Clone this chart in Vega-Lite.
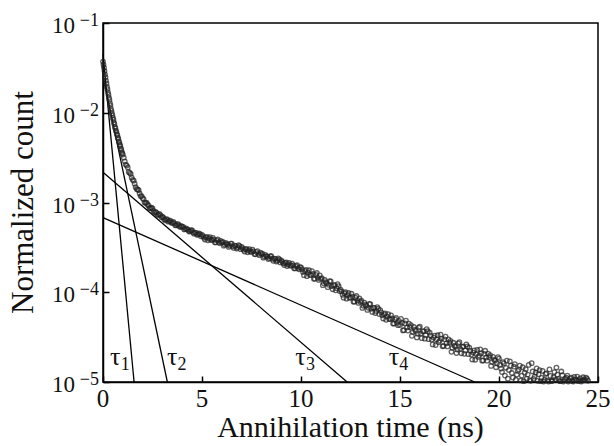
{
  "$schema": "https://vega.github.io/schema/vega-lite/v6.json",
  "autosize": "none",
  "width": 495,
  "height": 359,
  "padding": {"left": 103, "top": 23, "right": 16, "bottom": 64},
  "background": "white",
  "config": {
    "view": {"stroke": "black", "strokeWidth": 1.5},
    "axis": {
      "domainColor": "black",
      "domainWidth": 1.5,
      "tickColor": "black",
      "tickWidth": 1.5,
      "grid": false
    }
  },
  "datasets": {
    "pts": [
      {"t":0,"v":0.0372},{"t":0.025,"v":0.0343},{"t":0.05,"v":0.0318},{"t":0.075,"v":0.0292},{"t":0.1,"v":0.0267},
      {"t":0.125,"v":0.0249},{"t":0.15,"v":0.0228},{"t":0.175,"v":0.0212},{"t":0.2,"v":0.0194},{"t":0.225,"v":0.0183},
      {"t":0.25,"v":0.0169},{"t":0.275,"v":0.0159},{"t":0.3,"v":0.0147},{"t":0.325,"v":0.0139},{"t":0.35,"v":0.0128},
      {"t":0.375,"v":0.0121},{"t":0.4,"v":0.0111},{"t":0.425,"v":0.0105},{"t":0.45,"v":0.00985},{"t":0.475,"v":0.00937},
      {"t":0.5,"v":0.00876},{"t":0.525,"v":0.00836},{"t":0.55,"v":0.00781},{"t":0.575,"v":0.00745},{"t":0.6,"v":0.00696},
      {"t":0.625,"v":0.00672},{"t":0.65,"v":0.00634},{"t":0.675,"v":0.00613},{"t":0.7,"v":0.00579},{"t":0.725,"v":0.00559},
      {"t":0.75,"v":0.00528},{"t":0.775,"v":0.0051},{"t":0.8,"v":0.00481},{"t":0.825,"v":0.00465},{"t":0.85,"v":0.0044},
      {"t":0.875,"v":0.00424},{"t":0.9,"v":0.00401},{"t":0.925,"v":0.00387},{"t":0.95,"v":0.00365},{"t":0.975,"v":0.00353},
      {"t":1.0,"v":3.42e-3},{"t":1.1,"v":2.88e-3},{"t":1.2,"v":2.58e-3},{"t":1.3,"v":2.19e-3},{"t":1.4,"v":2.08e-3},
      {"t":1.5,"v":1.79e-3},{"t":1.6,"v":1.62e-3},{"t":1.7,"v":1.41e-3},{"t":1.8,"v":1.37e-3},{"t":1.9,"v":1.18e-3},
      {"t":2.0,"v":1.12e-3},{"t":2.1,"v":9.99e-4},{"t":2.2,"v":9.94e-4},{"t":2.3,"v":9.23e-4},{"t":2.4,"v":8.62e-4},
      {"t":2.5,"v":8.58e-4},{"t":2.6,"v":7.72e-4},{"t":2.7,"v":7.70e-4},{"t":2.8,"v":7.30e-4},{"t":2.9,"v":7.25e-4},
      {"t":3.0,"v":6.98e-4},{"t":3.1,"v":6.52e-4},{"t":3.2,"v":6.48e-4},{"t":3.3,"v":6.11e-4},{"t":3.4,"v":6.27e-4},
      {"t":3.5,"v":5.92e-4},{"t":3.6,"v":5.88e-4},{"t":3.7,"v":5.55e-4},{"t":3.8,"v":5.75e-4},{"t":3.9,"v":5.33e-4},
      {"t":4.0,"v":5.35e-4},{"t":4.1,"v":5.01e-4},{"t":4.2,"v":5.16e-4},{"t":4.3,"v":4.95e-4},{"t":4.4,"v":4.79e-4},
      {"t":4.5,"v":4.88e-4},{"t":4.6,"v":4.49e-4},{"t":4.7,"v":4.58e-4},{"t":4.8,"v":4.40e-4},{"t":4.9,"v":4.43e-4},
      {"t":5.0,"v":4.37e-4},{"t":5.1,"v":4.04e-4},{"t":5.2,"v":4.09e-4},{"t":5.3,"v":3.79e-4},{"t":5.4,"v":4.12e-4},
      {"t":5.5,"v":3.82e-4},{"t":5.6,"v":3.86e-4},{"t":5.7,"v":3.59e-4},{"t":5.8,"v":3.88e-4},{"t":5.9,"v":3.51e-4},
      {"t":6.0,"v":3.59e-4},{"t":6.1,"v":3.30e-4},{"t":6.2,"v":3.55e-4},{"t":6.3,"v":3.40e-4},{"t":6.4,"v":3.30e-4},
      {"t":6.5,"v":3.48e-4},{"t":6.6,"v":3.12e-4},{"t":6.7,"v":3.29e-4},{"t":6.8,"v":3.16e-4},{"t":6.9,"v":3.26e-4},
      {"t":7.0,"v":3.20e-4},{"t":7.1,"v":2.97e-4},{"t":7.2,"v":3.01e-4},{"t":7.3,"v":2.79e-4},{"t":7.4,"v":3.03e-4},
      {"t":7.5,"v":2.82e-4},{"t":7.6,"v":2.86e-4},{"t":7.7,"v":2.65e-4},{"t":7.8,"v":2.88e-4},{"t":7.9,"v":2.59e-4},
      {"t":8.0,"v":2.66e-4},{"t":8.1,"v":2.43e-4},{"t":8.2,"v":2.61e-4},{"t":8.3,"v":2.49e-4},{"t":8.4,"v":2.40e-4},
      {"t":8.5,"v":2.52e-4},{"t":8.6,"v":2.24e-4},{"t":8.7,"v":2.36e-4},{"t":8.8,"v":2.26e-4},{"t":8.9,"v":2.32e-4},
      {"t":9.0,"v":2.27e-4},{"t":9.1,"v":2.10e-4},{"t":9.2,"v":2.12e-4},{"t":9.3,"v":1.96e-4},{"t":9.4,"v":2.12e-4},
      {"t":9.5,"v":1.98e-4},{"t":9.6,"v":1.99e-4},{"t":9.7,"v":1.84e-4},{"t":9.8,"v":2.00e-4},{"t":9.9,"v":1.80e-4},
      {"t":10.0,"v":1.89e-4},{"t":10.1,"v":1.68e-4},{"t":10.2,"v":1.72e-4},{"t":10.3,"v":1.51e-4},{"t":10.4,"v":1.76e-4},
      {"t":10.5,"v":1.56e-4},{"t":10.6,"v":1.60e-4},{"t":10.7,"v":1.41e-4},{"t":10.8,"v":1.64e-4},{"t":10.9,"v":1.37e-4},
      {"t":11.0,"v":1.41e-4},{"t":11.1,"v":1.20e-4},{"t":11.2,"v":1.37e-4},{"t":11.3,"v":1.27e-4},{"t":11.4,"v":1.21e-4},
      {"t":11.5,"v":1.32e-4},{"t":11.6,"v":1.08e-4},{"t":11.7,"v":1.20e-4},{"t":11.8,"v":1.11e-4},{"t":11.9,"v":1.17e-4},
      {"t":12.0,"v":1.07e-4},{"t":12.1,"v":9.36e-5},{"t":12.2,"v":9.72e-5},{"t":12.3,"v":8.48e-5},{"t":12.4,"v":9.81e-5},
      {"t":12.5,"v":8.71e-5},{"t":12.6,"v":8.95e-5},{"t":12.7,"v":7.84e-5},{"t":12.8,"v":9.09e-5},{"t":12.9,"v":7.61e-5},
      {"t":13.0,"v":7.82e-5},{"t":13.1,"v":6.69e-5},{"t":13.2,"v":7.66e-5},{"t":13.3,"v":7.10e-5},{"t":13.4,"v":6.71e-5},
      {"t":13.5,"v":7.38e-5},{"t":13.6,"v":6.03e-5},{"t":13.7,"v":6.69e-5},{"t":13.8,"v":6.20e-5},{"t":13.9,"v":6.55e-5},
      {"t":14.0,"v":6.33e-5},{"t":14.1,"v":5.53e-5},{"t":14.2,"v":5.67e-5},{"t":14.3,"v":4.93e-5},{"t":14.4,"v":5.72e-5},
      {"t":14.5,"v":5.02e-5},{"t":14.6,"v":5.13e-5},{"t":14.7,"v":4.47e-5},{"t":14.8,"v":5.17e-5},{"t":14.9,"v":4.30e-5},
      {"t":15.0,"v":4.32e-5},{"t":15.1,"v":4.57e-5},{"t":15.2,"v":3.78e-5},{"t":15.3,"v":4.83e-5},{"t":15.4,"v":3.74e-5},
      {"t":15.5,"v":4.10e-5},{"t":15.6,"v":3.27e-5},{"t":15.7,"v":4.10e-5},{"t":15.8,"v":3.71e-5},{"t":15.9,"v":3.44e-5},
      {"t":16.0,"v":4.14e-5},{"t":16.1,"v":3.08e-5},{"t":16.2,"v":3.68e-5},{"t":16.3,"v":3.33e-5},{"t":16.4,"v":3.68e-5},
      {"t":16.5,"v":3.54e-5},{"t":16.6,"v":2.96e-5},{"t":16.7,"v":3.13e-5},{"t":16.8,"v":2.58e-5},{"t":16.9,"v":3.32e-5},
      {"t":17.0,"v":2.88e-5},{"t":17.1,"v":3.05e-5},{"t":17.2,"v":2.52e-5},{"t":17.3,"v":3.21e-5},{"t":17.4,"v":2.49e-5},
      {"t":17.5,"v":2.74e-5},{"t":17.6,"v":2.17e-5},{"t":17.7,"v":2.74e-5},{"t":17.8,"v":2.47e-5},{"t":17.9,"v":2.30e-5},
      {"t":18.0,"v":2.78e-5},{"t":18.1,"v":2.09e-5},{"t":18.2,"v":2.48e-5},{"t":18.3,"v":2.25e-5},{"t":18.4,"v":2.49e-5},
      {"t":18.5,"v":2.41e-5},{"t":18.6,"v":2.02e-5},{"t":18.7,"v":2.13e-5},{"t":18.8,"v":1.77e-5},{"t":18.9,"v":2.28e-5},
      {"t":19.0,"v":1.97e-5},{"t":19.1,"v":2.10e-5},{"t":19.2,"v":1.74e-5},{"t":19.3,"v":2.23e-5},{"t":19.4,"v":1.73e-5},
      {"t":19.5,"v":1.90e-5},{"t":19.6,"v":1.51e-5},{"t":19.7,"v":1.91e-5},{"t":19.8,"v":1.73e-5},{"t":19.9,"v":1.61e-5},
      {"t":20.0,"v":1.82e-5},{"t":20.1,"v":1.41e-5},{"t":20.2,"v":1.67e-5},{"t":20.3,"v":1.18e-5},{"t":20.4,"v":1.73e-5},
      {"t":20.5,"v":1.36e-5},{"t":20.6,"v":1.52e-5},{"t":20.7,"v":1.12e-5},{"t":20.8,"v":1.58e-5},{"t":20.9,"v":1.21e-5},
      {"t":21.0,"v":1.38e-5},{"t":21.1,"v":1.04e-5},{"t":21.2,"v":1.46e-5},{"t":21.3,"v":1.27e-5},{"t":21.4,"v":1.09e-5},
      {"t":21.5,"v":1.55e-5},{"t":21.6,"v":1.03e-5},{"t":21.7,"v":1.31e-5},{"t":21.8,"v":1.15e-5},{"t":21.9,"v":1.42e-5},
      {"t":22.0,"v":1.22e-5},{"t":22.1,"v":1.02e-5},{"t":22.2,"v":1.33e-5},{"t":22.3,"v":1.06e-5},{"t":22.4,"v":1.25e-5},
      {"t":22.5,"v":1.01e-5},{"t":22.6,"v":1.17e-5},{"t":22.7,"v":1.04e-5},{"t":22.8,"v":1.29e-5},{"t":22.9,"v":1.45e-5},
      {"t":23.0,"v":1.08e-5},{"t":23.1,"v":1.02e-5},{"t":23.2,"v":1.19e-5},{"t":23.3,"v":1.05e-5},{"t":23.4,"v":1.12e-5},
      {"t":23.5,"v":1.01e-5},{"t":23.6,"v":1.09e-5},{"t":23.7,"v":1.03e-5},{"t":23.8,"v":1.14e-5},{"t":23.9,"v":1.06e-5},
      {"t":24.0,"v":1.02e-5},{"t":24.1,"v":1.10e-5},{"t":24.2,"v":1.04e-5},{"t":24.3,"v":1.07e-5},{"t":24.4,"v":1.12e-5},
      {"t":24.5,"v":1.03e-5},
      {"t":1.05,"v":3.16e-3},{"t":1.15,"v":2.65e-3},{"t":1.25,"v":2.46e-3},{"t":1.35,"v":2.14e-3},{"t":1.45,"v":1.89e-3},
      {"t":1.55,"v":1.75e-3},{"t":1.65,"v":1.48e-3},{"t":1.75,"v":1.40e-3},{"t":1.85,"v":1.26e-3},{"t":1.95,"v":1.18e-3},
      {"t":2.05,"v":1.09e-3},{"t":2.15,"v":9.92e-4},{"t":2.25,"v":9.53e-4},{"t":2.35,"v":8.69e-4},{"t":2.45,"v":8.75e-4},
      {"t":2.55,"v":8.07e-4},{"t":2.65,"v":7.85e-4},{"t":2.75,"v":7.28e-4},{"t":2.85,"v":7.46e-4},{"t":2.95,"v":6.84e-4},
      {"t":3.05,"v":6.77e-4},{"t":3.15,"v":6.31e-4},{"t":3.25,"v":6.50e-4},{"t":3.35,"v":6.21e-4},{"t":3.45,"v":5.97e-4},
      {"t":3.55,"v":6.08e-4},{"t":3.65,"v":5.59e-4},{"t":3.75,"v":5.70e-4},{"t":3.85,"v":5.48e-4},{"t":3.95,"v":5.50e-4},
      {"t":4.05,"v":5.36e-4},{"t":4.15,"v":5.06e-4},{"t":4.25,"v":5.03e-4},{"t":4.35,"v":4.74e-4},{"t":4.45,"v":4.92e-4},
      {"t":4.55,"v":4.64e-4},{"t":4.65,"v":4.62e-4},{"t":4.75,"v":4.36e-4},{"t":4.85,"v":4.52e-4},{"t":4.95,"v":4.20e-4},
      {"t":5.05,"v":4.23e-4},{"t":5.15,"v":3.87e-4},{"t":5.25,"v":4.15e-4},{"t":5.35,"v":3.97e-4},{"t":5.45,"v":3.84e-4},
      {"t":5.55,"v":4.03e-4},{"t":5.65,"v":3.60e-4},{"t":5.75,"v":3.79e-4},{"t":5.85,"v":3.62e-4},{"t":5.95,"v":3.73e-4},
      {"t":6.05,"v":3.65e-4},{"t":6.15,"v":3.40e-4},{"t":6.25,"v":3.45e-4},{"t":6.35,"v":3.20e-4},{"t":6.45,"v":3.49e-4},
      {"t":6.55,"v":3.25e-4},{"t":6.65,"v":3.30e-4},{"t":6.75,"v":3.07e-4},{"t":6.85,"v":3.34e-4},{"t":6.95,"v":3.02e-4},
      {"t":7.05,"v":3.10e-4},{"t":7.15,"v":2.84e-4},{"t":7.25,"v":3.05e-4},{"t":7.35,"v":2.92e-4},{"t":7.45,"v":2.83e-4},
      {"t":7.55,"v":2.98e-4},{"t":7.65,"v":2.66e-4},{"t":7.75,"v":2.80e-4},{"t":7.85,"v":2.68e-4},{"t":7.95,"v":2.76e-4},
      {"t":8.05,"v":2.70e-4},{"t":8.15,"v":2.50e-4},{"t":8.25,"v":2.53e-4},{"t":8.35,"v":2.34e-4},{"t":8.45,"v":2.53e-4},
      {"t":8.55,"v":2.35e-4},{"t":8.65,"v":2.37e-4},{"t":8.75,"v":2.20e-4},{"t":8.85,"v":2.38e-4},{"t":8.95,"v":2.15e-4},
      {"t":9.05,"v":2.20e-4},{"t":9.15,"v":2.01e-4},{"t":9.25,"v":2.15e-4},{"t":9.35,"v":2.05e-4},{"t":9.45,"v":1.98e-4},
      {"t":9.55,"v":2.08e-4},{"t":9.65,"v":1.85e-4},{"t":9.75,"v":1.95e-4},{"t":9.85,"v":1.86e-4},{"t":9.95,"v":1.91e-4},
      {"t":10.05,"v":1.80e-4},{"t":10.15,"v":1.55e-4},{"t":10.25,"v":1.77e-4},{"t":10.35,"v":1.65e-4},{"t":10.45,"v":1.56e-4},
      {"t":10.55,"v":1.72e-4},{"t":10.65,"v":1.41e-4},{"t":10.75,"v":1.56e-4},{"t":10.85,"v":1.45e-4},{"t":10.95,"v":1.54e-4},
      {"t":11.05,"v":1.44e-4},{"t":11.15,"v":1.26e-4},{"t":11.25,"v":1.30e-4},{"t":11.35,"v":1.14e-4},{"t":11.45,"v":1.33e-4},
      {"t":11.55,"v":1.17e-4},{"t":11.65,"v":1.20e-4},{"t":11.75,"v":1.05e-4},{"t":11.85,"v":1.23e-4},{"t":11.95,"v":1.03e-4},
      {"t":12.05,"v":1.02e-4},{"t":12.15,"v":8.70e-5},{"t":12.25,"v":1.00e-4},{"t":12.35,"v":9.27e-5},{"t":12.45,"v":8.71e-5},
      {"t":12.55,"v":9.63e-5},{"t":12.65,"v":7.85e-5},{"t":12.75,"v":8.70e-5},{"t":12.85,"v":8.06e-5},{"t":12.95,"v":8.52e-5},
      {"t":13.05,"v":8.04e-5},{"t":13.15,"v":7.07e-5},{"t":13.25,"v":7.27e-5},{"t":13.35,"v":6.35e-5},{"t":13.45,"v":7.41e-5},
      {"t":13.55,"v":6.53e-5},{"t":13.65,"v":6.71e-5},{"t":13.75,"v":5.87e-5},{"t":13.85,"v":6.83e-5},{"t":13.95,"v":5.71e-5},
      {"t":14.05,"v":5.98e-5},{"t":14.15,"v":5.10e-5},{"t":14.25,"v":5.81e-5},{"t":14.35,"v":5.36e-5},{"t":14.45,"v":5.03e-5},
      {"t":14.55,"v":5.53e-5},{"t":14.65,"v":4.49e-5},{"t":14.75,"v":4.95e-5},{"t":14.85,"v":4.56e-5},{"t":14.95,"v":4.80e-5},
      {"t":15.05,"v":5.05e-5},{"t":15.15,"v":3.76e-5},{"t":15.25,"v":4.49e-5},{"t":15.35,"v":4.05e-5},{"t":15.45,"v":4.48e-5},
      {"t":15.55,"v":4.31e-5},{"t":15.65,"v":3.60e-5},{"t":15.75,"v":3.82e-5},{"t":15.85,"v":3.14e-5},{"t":15.95,"v":4.04e-5},
      {"t":16.05,"v":3.47e-5},{"t":16.15,"v":3.67e-5},{"t":16.25,"v":3.04e-5},{"t":16.35,"v":3.88e-5},{"t":16.45,"v":3.00e-5},
      {"t":16.55,"v":3.29e-5},{"t":16.65,"v":2.62e-5},{"t":16.75,"v":3.29e-5},{"t":16.85,"v":2.98e-5},{"t":16.95,"v":2.78e-5},
      {"t":17.05,"v":3.37e-5},{"t":17.15,"v":2.50e-5},{"t":17.25,"v":2.99e-5},{"t":17.35,"v":2.70e-5},{"t":17.45,"v":2.98e-5},
      {"t":17.55,"v":2.87e-5},{"t":17.65,"v":2.40e-5},{"t":17.75,"v":2.54e-5},{"t":17.85,"v":2.10e-5},{"t":17.95,"v":2.70e-5},
      {"t":18.05,"v":2.34e-5},{"t":18.15,"v":2.47e-5},{"t":18.25,"v":2.06e-5},{"t":18.35,"v":2.63e-5},{"t":18.45,"v":2.04e-5},
      {"t":18.55,"v":2.24e-5},{"t":18.65,"v":1.78e-5},{"t":18.75,"v":2.25e-5},{"t":18.85,"v":2.05e-5},{"t":18.95,"v":1.90e-5},
      {"t":19.05,"v":2.31e-5},{"t":19.15,"v":1.73e-5},{"t":19.25,"v":2.06e-5},{"t":19.35,"v":1.87e-5},{"t":19.45,"v":2.07e-5},
      {"t":19.55,"v":1.99e-5},{"t":19.65,"v":1.67e-5},{"t":19.75,"v":1.78e-5},{"t":19.85,"v":1.46e-5},{"t":19.95,"v":1.89e-5},
      {"t":20.05,"v":1.55e-5},{"t":20.15,"v":1.29e-5},{"t":20.25,"v":1.61e-5},{"t":20.35,"v":1.44e-5},{"t":20.45,"v":1.09e-5},
      {"t":20.55,"v":1.70e-5},{"t":20.65,"v":1.26e-5},{"t":20.75,"v":1.48e-5},{"t":20.85,"v":1.06e-5},{"t":20.95,"v":1.33e-5},
      {"t":21.05,"v":1.52e-5},{"t":21.15,"v":1.18e-5},{"t":21.25,"v":1.02e-5},{"t":21.35,"v":1.39e-5},{"t":21.45,"v":1.21e-5},
      {"t":21.55,"v":1.05e-5},{"t":21.65,"v":1.62e-5},{"t":21.75,"v":1.08e-5},{"t":21.85,"v":1.27e-5},{"t":21.95,"v":1.03e-5},
      {"t":22.05,"v":1.36e-5},{"t":22.15,"v":1.11e-5},{"t":22.25,"v":1.01e-5},{"t":22.35,"v":1.23e-5},{"t":22.45,"v":1.04e-5},
      {"t":22.55,"v":1.38e-5},{"t":22.65,"v":1.02e-5},{"t":22.75,"v":1.13e-5},{"t":22.85,"v":1.06e-5},{"t":22.95,"v":1.21e-5},
      {"t":23.05,"v":1.03e-5},{"t":23.15,"v":1.31e-5},{"t":23.25,"v":1.01e-5},{"t":23.35,"v":1.09e-5},{"t":23.45,"v":1.18e-5},
      {"t":23.55,"v":1.04e-5},{"t":23.65,"v":1.12e-5},{"t":23.75,"v":1.01e-5},{"t":23.85,"v":1.07e-5},{"t":23.95,"v":1.15e-5},
      {"t":24.05,"v":1.05e-5},{"t":24.15,"v":1.01e-5},{"t":24.25,"v":1.13e-5},{"t":24.35,"v":1.04e-5},{"t":24.45,"v":1.08e-5}
    ],
    "fits": [
      {"comp":"τ1","t":0,"v":0.045},{"comp":"τ1","t":1.57,"v":1e-5},
      {"comp":"τ2","t":0,"v":0.0257},{"comp":"τ2","t":3.25,"v":1e-5},
      {"comp":"τ3","t":0,"v":0.00217},{"comp":"τ3","t":12.33,"v":1e-5},
      {"comp":"τ4","t":0,"v":0.00068},{"comp":"τ4","t":18.77,"v":1e-5}
    ],
    "labs": [
      {"sym":"τ","sub":"1","t":0.62,"v":1.55e-5},
      {"sym":"τ","sub":"2","t":3.49,"v":1.55e-5},
      {"sym":"τ","sub":"3","t":9.97,"v":1.55e-5},
      {"sym":"τ","sub":"4","t":14.69,"v":1.55e-5}
    ],
    "xticks": [
      {"t":0,"lab":"0"},{"t":5,"lab":"5"},{"t":10,"lab":"10"},{"t":15,"lab":"15"},{"t":20,"lab":"20"},{"t":25,"lab":"25"}
    ],
    "yticks": [
      {"v":0.1,"base":"10","sup":"−1"},{"v":0.01,"base":"10","sup":"−2"},{"v":0.001,"base":"10","sup":"−3"},
      {"v":0.0001,"base":"10","sup":"−4"},{"v":0.00001,"base":"10","sup":"−5"}
    ]
  },
  "layer": [
    {
      "data": {"name": "fits"},
      "mark": {"type": "line", "color": "black", "strokeWidth": 1.3},
      "encoding": {
        "x": {"field": "t", "type": "quantitative",
          "scale": {"domain": [0, 25], "nice": false},
          "axis": {"values": [0, 5, 10, 15, 20, 25], "tickSize": -6, "labels": false, "title": null}},
        "y": {"field": "v", "type": "quantitative",
          "scale": {"type": "log", "domain": [1e-5, 0.1], "nice": false},
          "axis": {"values": [1e-5, 1e-4, 1e-3, 1e-2, 1e-1], "tickSize": -6, "labels": false, "title": null}},
        "detail": {"field": "comp"}
      }
    },
    {
      "data": {"name": "pts"},
      "mark": {"type": "point", "shape": "circle", "filled": false, "stroke": "#222", "strokeWidth": 1.3, "size": 20},
      "encoding": {
        "x": {"field": "t", "type": "quantitative"},
        "y": {"field": "v", "type": "quantitative"}
      }
    },
    {
      "data": {"name": "labs"},
      "mark": {"type": "text", "fontSize": 26, "font": "Liberation Serif", "align": "center", "baseline": "alphabetic", "color": "#111"},
      "encoding": {
        "x": {"field": "t", "type": "quantitative"},
        "y": {"field": "v", "type": "quantitative"},
        "text": {"field": "sym"}
      }
    },
    {
      "data": {"name": "labs"},
      "mark": {"type": "text", "fontSize": 18, "font": "Liberation Serif", "align": "center", "baseline": "alphabetic", "dx": 10, "dy": 5, "color": "#111"},
      "encoding": {
        "x": {"field": "t", "type": "quantitative"},
        "y": {"field": "v", "type": "quantitative"},
        "text": {"field": "sub"}
      }
    },
    {
      "data": {"name": "xticks"},
      "mark": {"type": "text", "fontSize": 25, "font": "Liberation Serif", "align": "center", "baseline": "alphabetic", "dy": 25, "color": "#111", "clip": false},
      "encoding": {
        "x": {"field": "t", "type": "quantitative"},
        "y": {"datum": 0.00001},
        "text": {"field": "lab"}
      }
    },
    {
      "data": {"name": "yticks"},
      "mark": {"type": "text", "fontSize": 23, "font": "Liberation Serif", "align": "right", "baseline": "alphabetic", "dx": -28, "dy": 10, "color": "#111", "clip": false},
      "encoding": {
        "x": {"datum": 0},
        "y": {"field": "v", "type": "quantitative"},
        "text": {"field": "base"}
      }
    },
    {
      "data": {"name": "yticks"},
      "mark": {"type": "text", "fontSize": 18, "font": "Liberation Serif", "align": "right", "baseline": "alphabetic", "dx": -4, "dy": 3, "color": "#111", "clip": false},
      "encoding": {
        "x": {"datum": 0},
        "y": {"field": "v", "type": "quantitative"},
        "text": {"field": "sup"}
      }
    },
    {
      "data": {"values": [{}]},
      "mark": {"type": "text", "fontSize": 30, "font": "Liberation Serif", "align": "center", "baseline": "alphabetic", "dy": 55, "color": "#111", "clip": false},
      "encoding": {
        "x": {"datum": 12.5},
        "y": {"datum": 0.00001},
        "text": {"value": "Annihilation time (ns)"}
      }
    },
    {
      "data": {"values": [{}]},
      "mark": {"type": "text", "fontSize": 31, "font": "Liberation Serif", "align": "center", "baseline": "alphabetic", "angle": 270, "dy": -70, "color": "#111", "clip": false},
      "encoding": {
        "x": {"datum": 0},
        "y": {"datum": 0.001},
        "text": {"value": "Normalized count"}
      }
    }
  ]
}
